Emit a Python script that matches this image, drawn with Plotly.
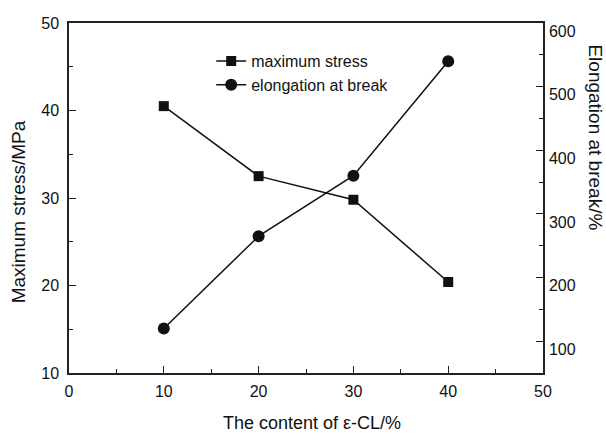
import plotly.graph_objects as go

# ε-CL content (%) and measured properties
content = [10, 20, 30, 40]
max_stress = [40.5, 32.5, 29.8, 20.4]          # MPa
elongation = [120, 265, 360, 540]              # %

x_ticks = [0, 10, 20, 30, 40, 50]
y1_ticks = [10, 20, 30, 40, 50]
y2_ticks = [100, 200, 300, 400, 500, 600]

FONT = "Liberation Sans, Arial, sans-serif"
INK = "#111111"
AXIS = "#222222"

fig = go.Figure()

fig.add_trace(go.Scatter(
    x=content, y=max_stress, name="maximum stress",
    mode="lines+markers",
    line=dict(color=INK, width=1.5),
    marker=dict(symbol="square", size=10, color=INK),
    yaxis="y",
))
fig.add_trace(go.Scatter(
    x=content, y=elongation, name="elongation at break",
    mode="lines+markers",
    line=dict(color=INK, width=1.5),
    marker=dict(symbol="circle", size=12, color=INK),
    yaxis="y2",
))

tick_font = dict(family=FONT, size=16, color=INK)
minor = dict(ticks="inside", ticklen=4, tickcolor=AXIS, tickwidth=1.4)

fig.update_layout(
    width=606, height=433,
    margin=dict(l=69.3, r=63.3, t=23.3, b=59.7),
    paper_bgcolor="white", plot_bgcolor="white",
    showlegend=True,
    legend=dict(
        x=0.3, y=0.94, xanchor="left", yanchor="top",
        bgcolor="rgba(0,0,0,0)", borderwidth=0,
        font=dict(family=FONT, size=16, color=INK),
        itemwidth=30,
    ),
    xaxis=dict(
        range=[0, 50], tickvals=x_ticks,
        showgrid=False, zeroline=False,
        showline=True, linecolor=AXIS, linewidth=1.5, mirror=True,
        ticks="inside", ticklen=7, tickwidth=1.4, tickcolor=AXIS,
        minor=dict(dtick=5, **minor),
        tickfont=tick_font, ticklabelstandoff=3,
    ),
    yaxis=dict(
        range=[10, 50], tickvals=y1_ticks,
        showgrid=False, zeroline=False,
        showline=True, linecolor=AXIS, linewidth=1.5,
        ticks="inside", ticklen=7, tickwidth=1.4, tickcolor=AXIS,
        minor=dict(dtick=5, **minor),
        tickfont=tick_font, ticklabelstandoff=5,
    ),
    yaxis2=dict(
        range=[50, 600], tickvals=y2_ticks,
        overlaying="y", side="right",
        showgrid=False, zeroline=False,
        showline=True, linecolor=AXIS, linewidth=1.5,
        ticks="inside", ticklen=7, tickwidth=1.4, tickcolor=AXIS,
        minor=dict(dtick=50, **minor),
        tickfont=tick_font, ticklabelstandoff=1, ticklabelshift=8,
    ),
    annotations=[
        dict(text="The content of ε-CL/%", xref="paper", yref="paper",
             x=0.512, y=-0.143, xanchor="center", yanchor="middle",
             showarrow=False, font=dict(family=FONT, size=18, color=INK)),
        dict(text="Maximum stress/MPa", xref="paper", yref="paper",
             x=-0.1077, y=0.4617, xanchor="center", yanchor="middle",
             textangle=-90, showarrow=False,
             font=dict(family=FONT, size=19, color=INK)),
        dict(text="Elongation at break/%", xref="paper", yref="paper",
             x=1.1105, y=0.672, xanchor="center", yanchor="middle",
             textangle=90, showarrow=False,
             font=dict(family=FONT, size=19, color=INK)),
    ],
)

fig.write_html("out.html")
